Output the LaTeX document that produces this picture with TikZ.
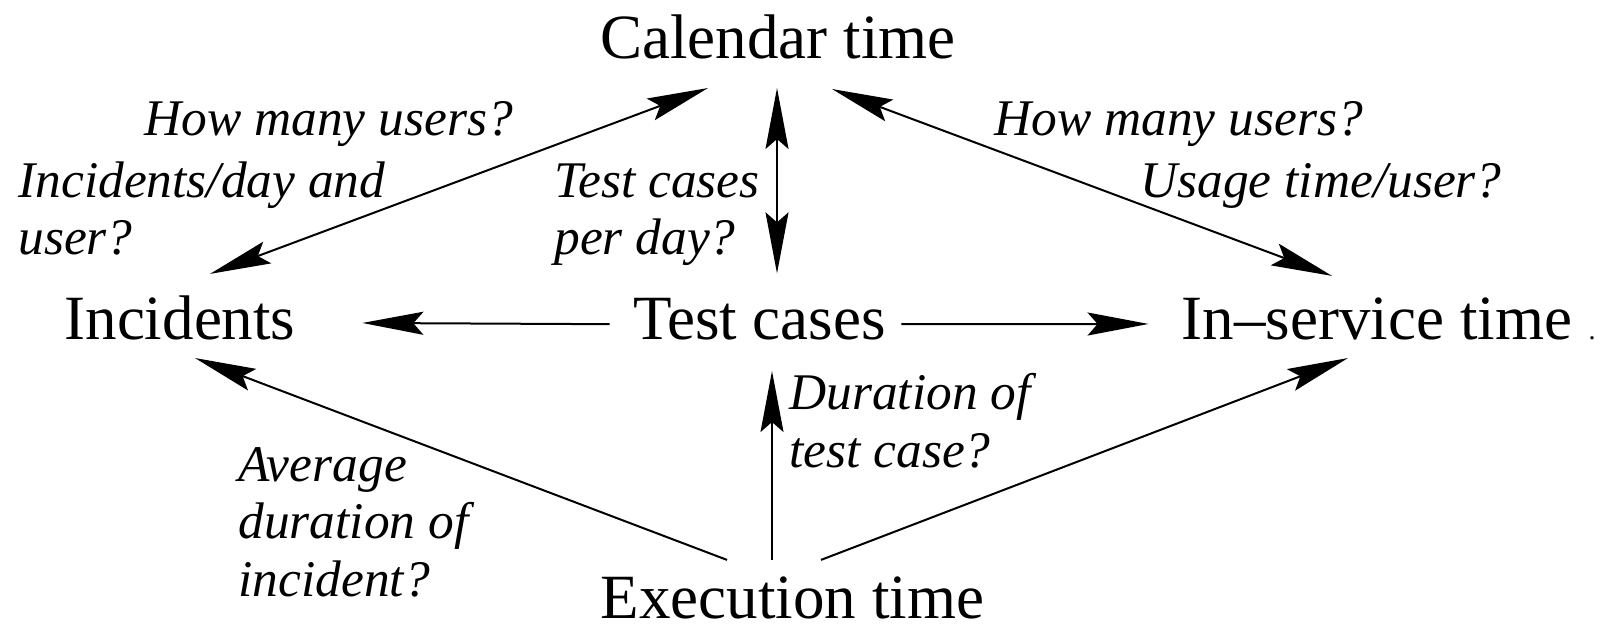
\documentclass[tikz,border=0pt]{standalone}
\usepackage{fontspec}
\setmainfont{Liberation Serif}
\usetikzlibrary{arrows, arrows.meta}

\tikzset{
  term/.style={inner sep=0pt, anchor=base, font=\fontsize{31.5}{34}\selectfont},
  quest/.style={inner sep=0pt, anchor=base west, align=left,
    font=\fontsize{25.7}{28.75}\selectfont\itshape},
  link/.style={line width=1pt, -{Stealth[length=30.5pt, width=11.5pt, inset=5pt]}},
  twoway/.style={line width=1pt,
    {Stealth[length=30.5pt, width=11.5pt, inset=5pt]}-{Stealth[length=30.5pt, width=11.5pt, inset=5pt]}},
}

\begin{document}
\begin{tikzpicture}[x=0.5pt, y=-0.5pt]
\useasboundingbox (0,0) rectangle (1610,628);
% the five quantities
\node[term] (cal) at (778,58.5) {Calendar time};
\node[term] (inc) at (180,339) {Incidents};
\node[term] (tc) at (759.5,339) {Test cases};
\node[term] (isv) at (1377,339) {In--service time};
\node[term, font=\fontsize{14}{14}\selectfont] (dot) at (1592,339) {.};
\node[term] (exe) at (792.5,618) {Execution time};

% the questions (base = last line)
\node[quest] (q1) at (144,135) {How many users?};
\node[quest] (q2) at (18,254.5) {Incidents/day and\\user?};
\node[quest] (q3) at (554,254.5) {Test cases\\per day?};
\node[quest] (q4) at (994,135) {How many users?};
\node[quest] (q5) at (1140,197) {Usage time/user?};
\node[quest] (q6) at (789,467) {Duration of\\test case?};
\node[quest] (q7) at (238,596) {Average\\duration of\\incident?};

% conversions
\draw[twoway] ([shift={(30,-21)}]inc.north) -- ([shift={(-70,28.5)}]cal.south);
\draw[twoway] ([shift={(-1,28.5)}]cal.south) -- ([shift={(17.5,-24)}]tc.north);
\draw[twoway] ([shift={(54,29.5)}]cal.south) -- ([shift={(-45,-21)}]isv.north);
\draw[link] ([shift={(-23,5.5)}]tc.west) -- ([shift={(66.5,5.5)}]inc.east);
\draw[link] ([shift={(15,5.5)}]tc.east) -- ([shift={(-33,5.5)}]isv.west);
\draw[link] ([shift={(-65.5,-16)}]exe.north) -- ([shift={(15,18)}]inc.south);
\draw[link] ([shift={(-20.5,-16)}]exe.north) -- ([shift={(12.5,31)}]tc.south);
\draw[link] ([shift={(28.5,-16)}]exe.north) -- ([shift={(-29,18)}]isv.south);
\end{tikzpicture}
\end{document}
